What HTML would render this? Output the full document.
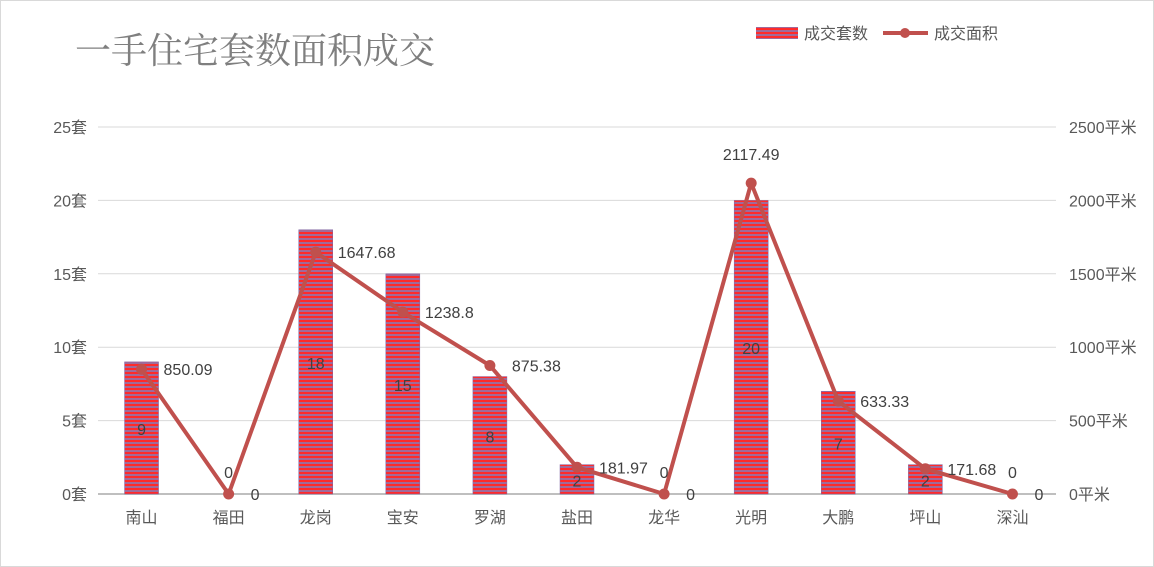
<!DOCTYPE html>
<html><head><meta charset="utf-8"><style>
body{margin:0;background:#fff;}
svg{display:block;font-family:"Liberation Sans","Noto Sans CJK SC",sans-serif;}
</style></head><body>
<svg id="c" width="1154" height="567">
<defs><pattern id="stripe" width="4" height="4" patternUnits="userSpaceOnUse">
<rect width="4" height="4" fill="#ff2a2a"/><rect y="2" width="4" height="2" fill="#a06a9a"/></pattern></defs>
<rect x="0.5" y="0.5" width="1153" height="566" fill="#fff" stroke="#d9d9d9"/>
<text x="75" y="63" font-size="36" fill="#7f7f7f" font-family="'Noto Serif CJK SC',serif">一手住宅套数面积成交</text>
<g>
<rect x="756" y="27" width="42" height="12" fill="url(#stripe)"/>
<text x="804" y="39" font-size="16" fill="#595959">成交套数</text>
<line x1="883" y1="33" x2="928" y2="33" stroke="#c0504d" stroke-width="4"/>
<circle cx="905" cy="33" r="5" fill="#c0504d"/>
<text x="934" y="39" font-size="16" fill="#595959">成交面积</text>
</g>
<g id="grid"></g><g id="bars"></g><g id="line"></g><g id="labels"></g>
</svg>
<script>
const categories=["南山","福田","龙岗","宝安","罗湖","盐田","龙华","光明","大鹏","坪山","深汕"];
const counts=[9,0,18,15,8,2,0,20,7,2,0];
const areas=[850.09,0,1647.68,1238.8,875.38,181.97,0,2117.49,633.33,171.68,0];
const leftTicks=[0,5,10,15,20,25];
const rightTicks=[0,500,1000,1500,2000,2500];
const NS="http://www.w3.org/2000/svg";
const x0=98,x1=1056,yB=494,yT=127;
const step=(x1-x0)/categories.length;
const xc=i=>x0+step*(i+0.5);
const yL=v=>yB-(v/25)*(yB-yT);
const yR=v=>yB-(v/2500)*(yB-yT);
function mk(tag,attrs,parent,txt){const e=document.createElementNS(NS,tag);for(const k in attrs)e.setAttribute(k,attrs[k]);if(txt!==undefined)e.textContent=txt;document.getElementById(parent).appendChild(e);return e;}
leftTicks.forEach((t,i)=>{
  const y=yL(t);
  const g=mk("line",{x1:x0,x2:x1,y1:y,y2:y,stroke:t===0?"#bfbfbf":"#d9d9d9","stroke-width":t===0?2:1},"grid");
  
  
  const l=mk("text",{x:87,y:y+6,"font-size":16,fill:"#595959","text-anchor":"end"},"grid",t+"套");
  
  
});
rightTicks.forEach(t=>{
  const r=mk("text",{x:1069,y:yR(t)+6,"font-size":16,fill:"#595959"},"grid",t+"平米");
  
  
});
categories.forEach((c,i)=>{
  const t=mk("text",{x:xc(i),y:523,"font-size":16,fill:"#595959","text-anchor":"middle"},"labels",c);
  
  
  const bw=34,h=yB-yL(counts[i]);
  if(h>0){const b=mk("rect",{x:xc(i)-bw/2,y:yL(counts[i]),width:bw,height:h,fill:"url(#stripe)",stroke:"#8064a2","stroke-width":0.5},"bars");
  
  }
  const cl=mk("text",{x:xc(i),y:(counts[i]>0?(yB+yL(counts[i]))/2+7:yB-16),"font-size":16,fill:"#404040","text-anchor":"middle"},"labels",String(counts[i]));
  
  
});
const pts=areas.map((v,i)=>xc(i)+","+yR(v)).join(" ");
const pl=mk("polyline",{points:pts,fill:"none",stroke:"#c0504d","stroke-width":4,"stroke-linejoin":"round"},"line");


areas.forEach((v,i)=>{
  const p=mk("circle",{cx:xc(i),cy:yR(v),r:5.5,fill:"#c0504d"},"line");
  
  
  const top=(i===7);
  const lx=top?xc(i):xc(i)+22, ly=top?yR(v)-23:yR(v)+6;
  const t=mk("text",{x:lx,y:ly,"font-size":16,fill:"#404040","text-anchor":top?"middle":"start"},"labels",String(v));
  
  
});
</script>
</body></html>
